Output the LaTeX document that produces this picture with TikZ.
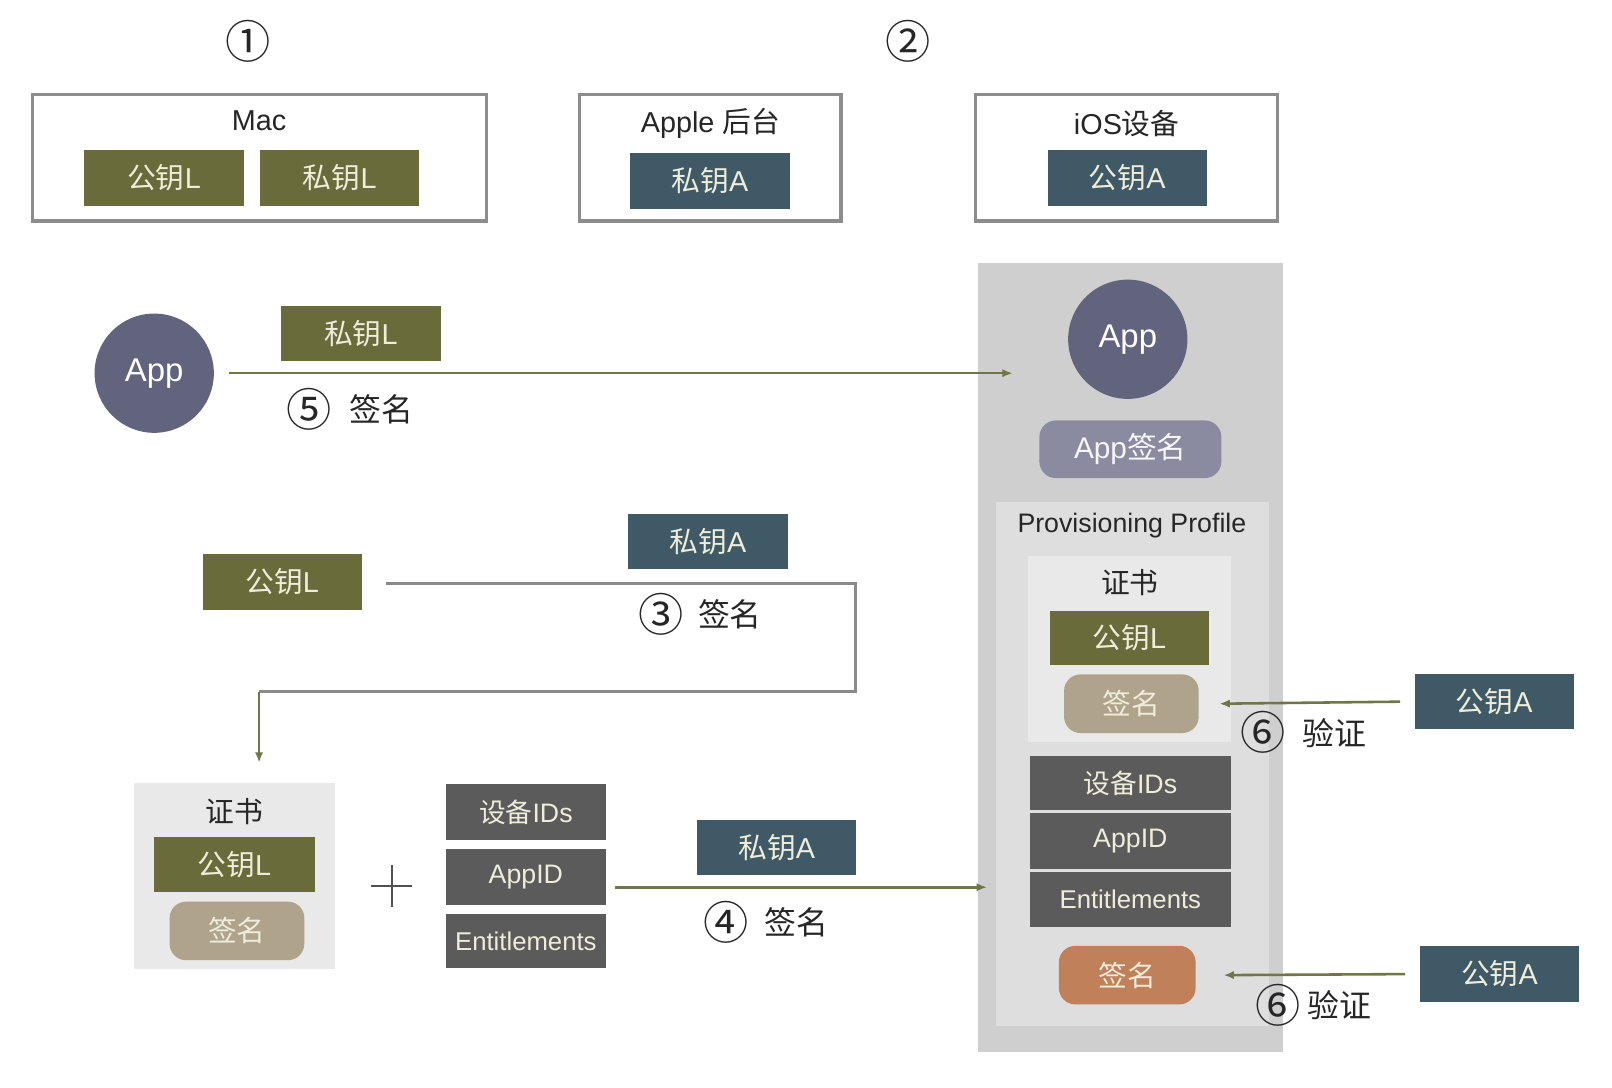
\documentclass[tikz,border=0pt]{standalone}
\usepackage{fontspec}
\setmainfont{Liberation Sans}
\newfontfamily\cjk{Noto Sans CJK SC}
\usetikzlibrary{arrows.meta}
\definecolor{olivek}{RGB}{106,107,58}
\definecolor{tealk}{RGB}{63,90,102}
\definecolor{appc}{RGB}{98,99,124}
\definecolor{appsigc}{RGB}{138,139,160}
\definecolor{sigtan}{RGB}{176,163,139}
\definecolor{sigorange}{RGB}{192,128,90}
\definecolor{itemgray}{RGB}{91,91,91}
\definecolor{panelA}{RGB}{207,207,207}
\definecolor{panelB}{RGB}{222,222,222}
\definecolor{panelC}{RGB}{233,233,233}
\definecolor{framec}{RGB}{140,140,140}
\definecolor{cream}{RGB}{238,236,218}
\definecolor{arrowc}{RGB}{112,118,72}
\definecolor{linegray}{RGB}{138,138,138}
\definecolor{txt}{RGB}{38,38,38}
\newcommand\myfs[1]{\fontsize{#1}{#1}\selectfont}
\tikzset{
  keybox/.style={minimum width=155pt, minimum height=54pt, inner sep=0pt, text=cream, font=\myfs{28}},
  olivebox/.style={keybox, fill=olivek},
  tealbox/.style={keybox, fill=tealk},
  itembox/.style={keybox, fill=itemgray, minimum height=54pt, font=\myfs{26}},
  framebox/.style={draw=framec, line width=3pt, inner sep=0pt, minimum height=123pt},
  panel/.style={inner sep=0pt},
  title/.style={text=txt, font=\myfs{28}, inner sep=0pt},
  sigbox/.style={rounded corners=16pt, minimum width=131pt, minimum height=57pt, inner sep=0pt, text=cream, font=\myfs{28}\cjk},
  appcircle/.style={circle, fill=appc, minimum size=116pt, inner sep=0pt, text=white, font=\myfs{32}},
  circnum/.style={text=txt, font=\myfs{44}\cjk, inner sep=0pt},
  steptext/.style={text=txt, font=\myfs{31}\cjk, inner sep=0pt},
  conn/.style={draw=arrowc, line width=2.5pt, -{Latex[length=10pt,width=8pt]}},
  grayline/.style={draw=linegray, line width=3pt},
}
\begin{document}
\begin{tikzpicture}[x=1pt,y=-1pt]
\useasboundingbox[fill=white] (0,0) rectangle (1568,1058);

% top row
\node[circnum] (n1) at (241,40) {①};
\node[circnum] (n2) at (883,40) {②};
\node[framebox, minimum width=441pt] (mac) at (252.5,153.5) {};
\node[title] (mact) at (252,117) {Mac};
\node[olivebox] (k1) at (159.5,173) {{\cjk 公钥}L};
\node[olivebox] (k2) at (330.5,173) {{\cjk 私钥}L};
\node[framebox, minimum width=254pt] (apple) at (691,153.5) {};
\node[title] (applet) at (691,120) {Apple {\cjk 后台}};
\node[tealbox] (k3) at (690.5,176) {{\cjk 私钥}A};
\node[framebox, minimum width=294pt] (ios) at (1096,153.5) {};
\node[title] (iost) at (1096,120) {iOS{\cjk 设备}};
\node[tealbox] (k4) at (1096.5,173) {{\cjk 公钥}A};

% right device panel
\node[panel, fill=panelA, minimum width=297pt, minimum height=767pt] (dev) at (1099.5,639.5) {};
\node[appcircle] (app2) at (1097,330) {App};
\node[sigbox, fill=appsigc, minimum width=177pt, minimum height=56pt, text=white!92!appsigc, font=\myfs{29}] (appsig) at (1099.5,437) {App{\cjk 签名}};
\node[panel, fill=panelB, minimum width=265pt, minimum height=510pt] (pp) at (1101.5,743) {};
\node[title, font=\myfs{26}] (ppt) at (1101,511) {Provisioning Profile};
\node[panel, fill=panelC, minimum width=197pt, minimum height=181pt] (cert2) at (1098.5,631.5) {};
\node[title, font=\myfs{28}\cjk] (cert2t) at (1099,567) {证书};
\node[olivebox, minimum height=53pt] (k5) at (1098.5,620.5) {{\cjk 公钥}L};
\node[sigbox, fill=sigtan] (sig2) at (1100.5,684.5) {签名};
\node[itembox, minimum width=195pt, minimum height=53pt] (dev2) at (1099.5,761.5) {{\cjk 设备}IDs};
\node[itembox, minimum width=195pt] (appid2) at (1099.5,818) {AppID};
\node[itembox, minimum width=195pt, font=\myfs{25}] (ent2) at (1099.5,875) {Entitlements};
\node[sigbox, fill=sigorange, minimum width=133pt] (sig3) at (1096.5,948.5) {签名};

\node[tealbox, minimum height=53pt] (pa1) at (1453.5,682.5) {{\cjk 公钥}A};
\node[tealbox, minimum height=55pt] (pa2) at (1458.5,947.5) {{\cjk 公钥}A};
\draw[conn] ([xshift=-14pt]pa1.west) -- ([xshift=20pt]sig2.east);
\draw[conn] ([xshift=-14pt]pa2.west) -- ([xshift=27pt]sig3.east);
\node[circnum] (n6a) at (1229,712) {⑥};
\node[steptext] (t6a) at (1298,713) {验证};
\node[circnum] (n6b) at (1243,978) {⑥};
\node[steptext] (t6b) at (1303,978) {验证};

% step 5
\node[appcircle] (app1) at (150,363) {App};
\node[olivebox, minimum width=156pt, minimum height=53pt] (k6) at (351,324.5) {{\cjk 私钥}L};
\coordinate (e5) at (985,363);
\draw[conn] ([xshift=15pt]app1.east) -- (e5);
\node[circnum] (n5) at (301,398) {⑤};
\node[steptext] (t5) at (371,398) {签名};

% step 3
\node[olivebox] (k7) at (274.5,566) {{\cjk 公钥}L};
\node[tealbox, minimum height=53pt] (k8) at (688.5,526.5) {{\cjk 私钥}A};
\coordinate (p1) at (832,568);
\coordinate (p2) at (832,673);
\coordinate (p3) at (252,673);
\draw[grayline] ([xshift=23pt,yshift=-2pt]k7.east) -- (p1) -- (p2) -- (p3);
\node[circnum] (n3) at (643,598) {③};
\node[steptext] (t3) at (710,598) {签名};

% certificate + items
\node[panel, fill=panelC, minimum width=196pt, minimum height=181pt] (cert1) at (228,852.5) {};
\draw[conn] (p3) -- ([yshift=20pt]p3 |- cert1.north);
\node[title, font=\myfs{28}\cjk] (cert1t) at (228,789) {证书};
\node[olivebox, minimum width=156pt] (k9) at (228,841) {{\cjk 公钥}L};
\node[sigbox, fill=sigtan] (sig1) at (230.5,905.5) {签名};
\node[minimum size=40pt, inner sep=0pt] (plus) at (381,862) {};
\draw[draw=txt!80, line width=2pt] (plus.west) -- (plus.east) (plus.north) -- (plus.south);
\node[itembox] (dev1) at (511.5,790) {{\cjk 设备}IDs};
\node[itembox] (appid1) at (511.5,853) {AppID};
\node[itembox, minimum height=53pt, font=\myfs{25}] (ent1) at (511.5,915.5) {Entitlements};
\node[tealbox, minimum height=53pt] (k10) at (755.5,824.5) {{\cjk 私钥}A};
\coordinate (e4) at (960,863);
\draw[conn] ([xshift=9pt,yshift=-10pt]appid1.east) -- (e4);
\node[circnum] (n4) at (706,897) {④};
\node[steptext] (t4) at (775,897) {签名};
\end{tikzpicture}
\end{document}
